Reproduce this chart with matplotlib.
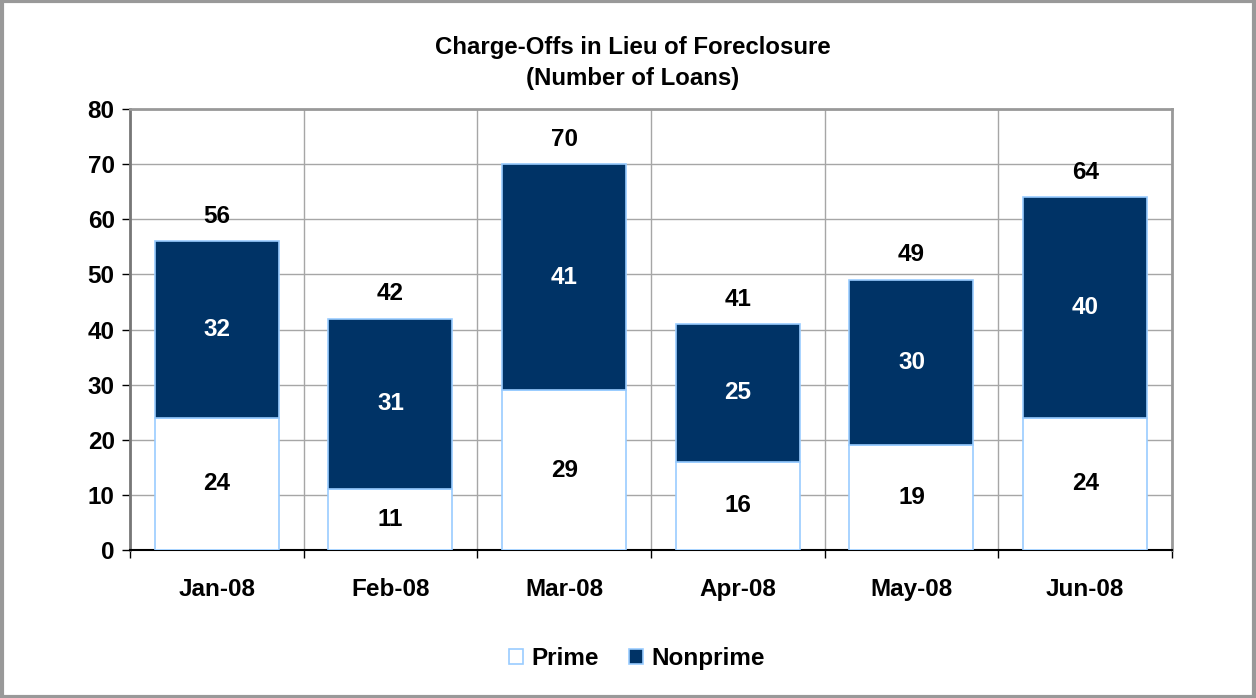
import matplotlib.pyplot as plt
from matplotlib.patches import Rectangle

months = ["Jan-08", "Feb-08", "Mar-08", "Apr-08", "May-08", "Jun-08"]
prime = [24, 11, 29, 16, 19, 24]
nonprime = [32, 31, 41, 25, 30, 40]

navy = "#003366"
edge = "#99ccff"
fs = 17.5

plt.rcParams['font.family'] = ['Liberation Sans', 'DejaVu Sans']
plt.rcParams['font.weight'] = 'bold'

fig = plt.figure(figsize=(12.56, 6.98), dpi=100)
ax = fig.add_axes([0.1035, 0.212, 0.8296, 0.6318])

x = list(range(len(months)))
totals = [p + n for p, n in zip(prime, nonprime)]

b1 = ax.bar(x, prime, width=0.714, color="white", edgecolor=edge, linewidth=1.2,
            label="Prime", zorder=3)
b2 = ax.bar(x, nonprime, width=0.714, bottom=prime, color=navy, edgecolor=edge,
            linewidth=1.2, label="Nonprime", zorder=3)

for i in x:
    ax.text(i, prime[i] / 2, str(prime[i]), ha="center", va="center",
            fontsize=fs, fontweight="bold", color="black", zorder=4)
    ax.text(i, prime[i] + nonprime[i] / 2, str(nonprime[i]), ha="center",
            va="center", fontsize=fs, fontweight="bold", color="white", zorder=4)
    ax.annotate(str(totals[i]), (i, totals[i]), xytext=(0, 18),
                textcoords="offset points", ha="center", va="center",
                fontsize=fs, fontweight="bold", zorder=4)

ax.set_xlim(-0.5, len(months) - 0.5)
ax.set_ylim(0, 80)
ax.set_yticks(range(0, 81, 10))
ax.set_xticks([i - 0.5 for i in range(len(months) + 1)])
ax.set_xticklabels([])
ax.set_xticks(x, minor=True)
ax.set_xticklabels(months, minor=True)
ax.tick_params(axis="x", which="major", length=6, width=1, direction="out")
ax.tick_params(axis="x", which="minor", length=0, pad=20, labelsize=fs)
ax.tick_params(axis="y", length=6, width=1, labelsize=fs, pad=5)
for lab in ax.get_xticklabels(minor=True) + ax.get_yticklabels():
    lab.set_fontweight("bold")

ax.grid(True, which="major", color="#a6a6a6", linewidth=1, zorder=0)
ax.set_axisbelow(True)

for side in ["top", "right"]:
    ax.spines[side].set_color("#999999")
    ax.spines[side].set_linewidth(2)
ax.spines["left"].set_color("#777777")
ax.spines["left"].set_linewidth(2)
ax.spines["bottom"].set_color("black")
ax.spines["bottom"].set_linewidth(1.5)

fig.text(0.5035, 0.932, "Charge-Offs in Lieu of Foreclosure", ha="center",
         va="center", fontsize=17.3, fontweight="bold")
fig.text(0.5035, 0.887, "(Number of Loans)", ha="center", va="center",
         fontsize=17.3, fontweight="bold")

fig.legend(handles=[b1, b2], loc="center", bbox_to_anchor=(0.507, 0.057),
           ncol=2, frameon=False, fontsize=fs, handlelength=0.58,
           handleheight=0.58, columnspacing=1.25, handletextpad=0.33)

fig.patches.append(Rectangle((0.0012, 0.0021), 0.9976, 0.9958,
                             transform=fig.transFigure, fill=False,
                             edgecolor="#999999", linewidth=3))

fig.savefig("out.png", dpi=100)
